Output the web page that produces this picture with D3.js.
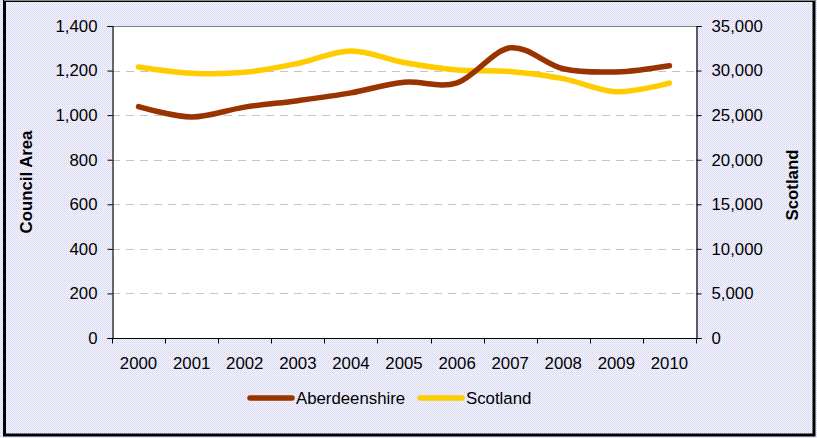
<!DOCTYPE html>
<html><head><meta charset="utf-8">
<script src="https://cdn.jsdelivr.net/npm/d3@7"></script>
<style>html,body{margin:0;padding:0;background:#fff;}svg{display:block;font-family:"Liberation Sans",Arial,sans-serif;}</style>
</head><body>
<script>
const years = ["2000","2001","2002","2003","2004","2005","2006","2007","2008","2009","2010"];
const aberdeenshire = [1038, 992, 1036, 1065, 1100, 1148, 1145, 1302, 1208, 1194, 1222];
const scotland = [30400, 29700, 29800, 30800, 32200, 30900, 30060, 29900, 29100, 27630, 28600];
const leftTicks = [0, 200, 400, 600, 800, 1000, 1200, 1400];
const rightTicks = [0, 5000, 10000, 15000, 20000, 25000, 30000, 35000];

const W = 817, H = 438;
const m = {left: 112, right: 696, top: 26, bottom: 338};
const svg = d3.select("body").append("svg").attr("width", W).attr("height", H);

const defs = svg.append("defs");
const pat = defs.append("pattern").attr("id","bg").attr("width",2).attr("height",2).attr("patternUnits","userSpaceOnUse");
pat.append("rect").attr("width",2).attr("height",2).attr("fill","#f3f3fc");
pat.append("rect").attr("width",1).attr("height",1).attr("fill","#d6d6f3");
pat.append("rect").attr("x",1).attr("y",1).attr("width",1).attr("height",1).attr("fill","#e2e2f7");

svg.append("rect").attr("width",W).attr("height",H).attr("fill","url(#bg)");
svg.append("rect").attr("x",4.5).attr("y",0.5).attr("width",809.5).attr("height",434.5)
  .attr("fill","none").attr("stroke","#000").attr("stroke-width",3);
svg.append("line").attr("x1",4).attr("x2",815).attr("y1",0.5).attr("y2",0.5).attr("stroke","#888").attr("stroke-width",1);

svg.append("rect").attr("x",m.left).attr("y",m.top).attr("width",m.right-m.left).attr("height",m.bottom-m.top).attr("fill","#fff");

const x = d3.scaleBand().domain(years).range([m.left, m.right]).paddingInner(0).paddingOuter(0);
const yL = d3.scaleLinear().domain([0,1400]).range([m.bottom, m.top]);
const yR = d3.scaleLinear().domain([0,35000]).range([m.bottom, m.top]);

// gridlines
svg.append("g").selectAll("line").data(leftTicks.filter(d=>d>0 && d<1400)).join("line")
  .attr("x1",m.left).attr("x2",m.right).attr("y1",d=>Math.round(yL(d))+0.5).attr("y2",d=>Math.round(yL(d))+0.5)
  .attr("stroke","#c4c4c4").attr("stroke-width",1).attr("stroke-dasharray","8,6");
svg.append("line").attr("x1",m.left).attr("x2",m.right).attr("y1",Math.round(yL(1400))+0.5).attr("y2",Math.round(yL(1400))+0.5)
  .attr("stroke","#808080").attr("stroke-width",1);

const fs = "16.8px";
// left axis
const gL = svg.append("g").attr("transform",`translate(${m.left+0.5},0)`)
  .call(d3.axisLeft(yL).tickValues(leftTicks).tickSize(5).tickPadding(10).tickFormat(d3.format(",")));
// right axis
const gR = svg.append("g").attr("transform",`translate(${m.right+0.5},0)`)
  .call(d3.axisRight(yR).tickValues(rightTicks).tickSize(5).tickPadding(10).tickFormat(d3.format(",")));
// x axis
const gX = svg.append("g").attr("transform",`translate(0,${m.bottom+0.5})`)
  .call(d3.axisBottom(x).tickSize(0).tickPadding(19));
[gL,gR,gX].forEach(g=>{
  g.selectAll("path.domain").attr("stroke","#000").attr("stroke-width",1.2);
  g.selectAll(".tick line").attr("stroke","#000");
  g.selectAll("text").attr("font-size",fs).attr("fill","#000").attr("font-family","'Liberation Sans',Arial,sans-serif");
});
gX.select("path.domain").attr("d",`M${m.left},0H${m.right}`);
gX.selectAll(".tick line").remove();
// category boundary ticks
const bounds = years.map(d=>x(d)).concat([m.right]);
gX.append("g").selectAll("line").data(bounds).join("line")
  .attr("x1",d=>Math.round(d)+0.5).attr("x2",d=>Math.round(d)+0.5).attr("y1",0).attr("y2",5)
  .attr("stroke","#000");

// lines
const curve = d3.curveCardinal.tension(0);
const lineA = d3.line().x((d,i)=>x(years[i])+x.bandwidth()/2).y(d=>yL(d)).curve(curve);
const lineS = d3.line().x((d,i)=>x(years[i])+x.bandwidth()/2).y(d=>yR(d)).curve(curve);
svg.append("path").attr("d",lineS(scotland)).attr("fill","none").attr("stroke","#ffcc00")
  .attr("stroke-width",5.5).attr("stroke-linecap","round").attr("stroke-linejoin","round");
svg.append("path").attr("d",lineA(aberdeenshire)).attr("fill","none").attr("stroke","#993300")
  .attr("stroke-width",5.5).attr("stroke-linecap","round").attr("stroke-linejoin","round");

// axis titles
svg.append("text").attr("transform","translate(32,182) rotate(-90)").attr("text-anchor","middle")
  .attr("font-size",fs).attr("font-weight","bold").text("Council Area");
svg.append("text").attr("transform","translate(798,185) rotate(-90)").attr("text-anchor","middle")
  .attr("font-size",fs).attr("font-weight","bold").text("Scotland");

// legend
const legend = [{name:"Aberdeenshire",color:"#993300",x:250},{name:"Scotland",color:"#ffcc00",x:420}];
const lg = svg.append("g");
legend.forEach(l=>{
  lg.append("line").attr("x1",l.x).attr("x2",l.x+42).attr("y1",398).attr("y2",398)
    .attr("stroke",l.color).attr("stroke-width",5.5).attr("stroke-linecap","round");
  lg.append("text").attr("x",l.x+46).attr("y",404).attr("font-size",fs).text(l.name);
});
</script>
</body></html>
